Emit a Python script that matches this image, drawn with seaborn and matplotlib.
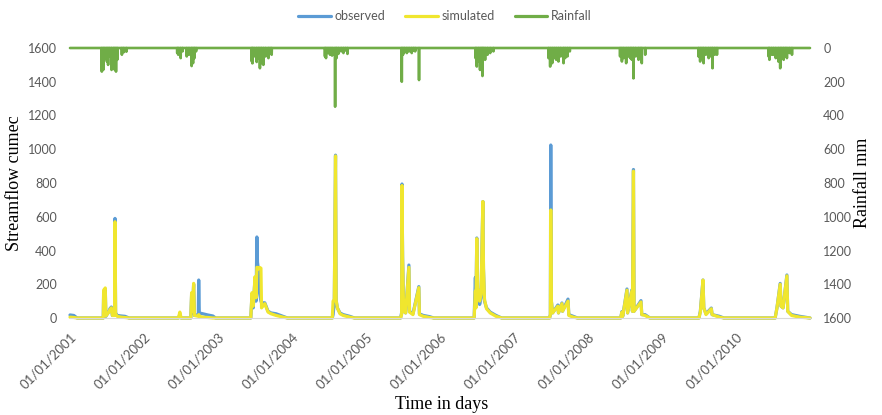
import matplotlib
matplotlib.use("Agg")
import matplotlib.pyplot as plt
import pandas as pd
import seaborn as sns
from matplotlib.lines import Line2D

# ---- streamflow (cumec): observed vs simulated ----
flow_dates = [
    "2001-01-01", "2001-01-20", "2001-02-05", "2001-06-14", "2001-06-16", "2001-06-24",
    "2001-06-27", "2001-07-12", "2001-07-17", "2001-07-24", "2001-07-29", "2001-08-09",
    "2001-08-11", "2001-08-14", "2001-08-22", "2001-09-10", "2001-09-29", "2001-10-20",
    "2002-06-20", "2002-06-27", "2002-07-03", "2002-08-20", "2002-08-24", "2002-08-28",
    "2002-09-03", "2002-09-07", "2002-09-26", "2002-09-28", "2002-10-01", "2002-10-18",
    "2002-11-12", "2002-12-07", "2002-12-20",
    "2003-06-12", "2003-06-18", "2003-06-24", "2003-07-03", "2003-07-08", "2003-07-12",
    "2003-07-15", "2003-07-18", "2003-07-25", "2003-08-01", "2003-08-04", "2003-08-20",
    "2003-09-05", "2003-09-20", "2003-10-15", "2003-11-18", "2003-12-10",
    "2004-07-18", "2004-07-22", "2004-07-28", "2004-08-03", "2004-08-06", "2004-08-12",
    "2004-08-25", "2004-09-10", "2004-10-12", "2004-11-05",
    "2005-06-20", "2005-06-25", "2005-06-27", "2005-06-30", "2005-07-05", "2005-07-15",
    "2005-07-31", "2005-08-03", "2005-08-20", "2005-09-18", "2005-09-21", "2005-10-10",
    "2005-11-10", "2005-12-01",
    "2006-06-18", "2006-06-24", "2006-06-27", "2006-07-01", "2006-07-05", "2006-07-10",
    "2006-07-15", "2006-07-22", "2006-07-31", "2006-08-03", "2006-08-08", "2006-08-18",
    "2006-09-05", "2006-10-04", "2006-11-01",
    "2007-06-25", "2007-06-29", "2007-07-01", "2007-07-04", "2007-07-10", "2007-08-05",
    "2007-08-08", "2007-08-25", "2007-08-28", "2007-09-24", "2007-09-28", "2007-10-20",
    "2007-11-10",
    "2008-06-10", "2008-06-16", "2008-06-20", "2008-07-11", "2008-07-14", "2008-08-04",
    "2008-08-07", "2008-08-12", "2008-08-15", "2008-09-18", "2008-09-22", "2008-10-08",
    "2008-11-01",
    "2009-07-01", "2009-07-08", "2009-07-21", "2009-07-25", "2009-08-05", "2009-08-31",
    "2009-09-04", "2009-10-10", "2009-11-01",
    "2010-07-12", "2010-07-21", "2010-08-06", "2010-08-10", "2010-08-20", "2010-09-08",
    "2010-09-12", "2010-10-01", "2010-11-10", "2010-12-31",
]
observed = [
    18, 15, 0, 0, 150, 170, 10, 40, 55, 65, 15, 20, 590, 30, 15, 12, 10, 0,
    0, 20, 0, 0, 140, 30, 200, 15, 20, 225, 30, 25, 18, 12, 0,
    0, 140, 60, 240, 100, 480, 330, 300, 150, 100, 90, 90, 40, 30, 25, 10, 0,
    0, 20, 90, 965, 105, 60, 30, 20, 10, 0,
    0, 30, 794, 360, 40, 30, 314, 40, 25, 186, 25, 15, 8, 0,
    0, 240, 100, 474, 150, 165, 80, 120, 690, 290, 100, 60, 35, 15, 0,
    0, 20, 1025, 100, 30, 77, 30, 89, 40, 112, 20, 10, 0,
    0, 38, 10, 172, 30, 166, 40, 880, 40, 103, 20, 20, 0,
    0, 40, 225, 60, 25, 59, 20, 10, 0,
    0, 60, 205, 70, 60, 255, 40, 20, 10, 0,
]
simulated = [
    5, 3, 0, 0, 165, 178, 12, 35, 50, 60, 15, 15, 570, 25, 10, 5, 3, 0,
    0, 35, 0, 0, 150, 40, 205, 15, 10, 20, 10, 5, 3, 0, 0,
    0, 150, 70, 245, 120, 300, 300, 290, 300, 295, 60, 85, 35, 25, 15, 5, 0,
    0, 100, 105, 960, 105, 60, 25, 15, 5, 0,
    0, 20, 785, 350, 40, 30, 300, 35, 20, 180, 20, 10, 3, 0,
    0, 160, 60, 470, 160, 165, 100, 140, 690, 300, 110, 55, 30, 10, 0,
    0, 20, 640, 100, 30, 70, 30, 85, 40, 100, 15, 5, 0,
    0, 35, 10, 165, 30, 160, 40, 870, 40, 95, 20, 15, 0,
    0, 35, 225, 60, 20, 55, 20, 5, 0,
    0, 60, 200, 70, 60, 250, 40, 15, 5, 0,
]

# ---- daily rainfall (mm), rain days only ----
rain_dates = [
    "2001-06-07", "2001-06-14", "2001-06-22", "2001-07-02", "2001-07-08", "2001-07-16",
    "2001-07-25", "2001-08-03", "2001-08-10", "2001-08-16", "2001-08-22", "2001-09-14",
    "2001-09-23", "2001-10-06",
    "2002-06-14", "2002-06-19", "2002-07-01", "2002-07-10", "2002-07-31", "2002-08-11",
    "2002-08-24", "2002-08-31", "2002-09-07", "2002-09-15",
    "2003-06-17", "2003-06-20", "2003-06-28", "2003-07-11", "2003-07-19", "2003-07-27",
    "2003-08-04", "2003-08-13", "2003-08-24", "2003-09-07", "2003-09-15", "2003-09-23",
    "2004-06-12", "2004-06-17", "2004-06-27", "2004-07-07", "2004-07-17", "2004-08-01",
    "2004-08-08", "2004-08-17", "2004-08-31", "2004-09-11", "2004-09-22", "2004-10-01",
    "2005-06-26", "2005-07-02", "2005-07-10", "2005-07-21", "2005-08-01", "2005-08-14",
    "2005-08-23", "2005-08-31", "2005-09-19",
    "2006-06-25", "2006-07-01", "2006-07-09", "2006-07-17", "2006-07-23", "2006-07-29",
    "2006-08-04", "2006-08-11", "2006-08-23", "2006-09-05", "2006-09-21",
    "2007-06-20", "2007-06-28", "2007-07-08", "2007-07-18", "2007-07-28", "2007-08-08",
    "2007-08-19", "2007-09-02", "2007-09-10", "2007-09-21", "2007-10-03",
    "2008-06-07", "2008-06-16", "2008-06-25", "2008-07-07", "2008-07-17", "2008-07-27",
    "2008-08-04", "2008-08-12", "2008-08-23", "2008-09-06", "2008-09-14", "2008-09-22",
    "2008-10-09",
    "2009-06-29", "2009-07-07", "2009-07-16", "2009-07-24", "2009-08-04", "2009-08-18",
    "2009-08-29", "2009-09-06", "2009-09-17", "2009-09-28",
    "2010-06-10", "2010-06-14", "2010-06-25", "2010-07-04", "2010-07-15", "2010-07-28",
    "2010-08-06", "2010-08-14", "2010-08-23", "2010-08-31", "2010-09-08", "2010-09-20",
    "2010-10-03",
]
rainfall = [
    140, 130, 60, 80, 100, 50, 130, 120, 130, 140, 70, 40, 25, 22,
    30, 40, 60, 20, 50, 40, 107, 90, 60, 20,
    80, 91, 50, 83, 60, 120, 90, 100, 50, 60, 30, 40,
    50, 60, 30, 40, 45, 348, 60, 35, 20, 30, 15, 35,
    200, 40, 25, 30, 20, 30, 15, 20, 190,
    60, 110, 80, 130, 100, 166, 60, 70, 40, 30, 20,
    60, 110, 90, 60, 70, 80, 50, 90, 60, 50, 20,
    50, 80, 60, 90, 50, 60, 70, 180, 50, 70, 50, 90, 40,
    50, 80, 60, 90, 40, 60, 50, 120, 40, 40,
    50, 70, 40, 40, 60, 80, 120, 60, 70, 50, 60, 30, 40,
]

tick_labels = [
    "01/01/2001", "01/01/2002", "01/01/2003", "01/01/2004", "01/01/2005",
    "01/01/2006", "01/01/2007", "01/01/2008", "01/01/2009", "01/01/2010",
]

BLUE = "#5B9BD5"
YELLOW = "#F0E62E"
GREEN = "#70AD47"
GREY = "#595959"

sns.set_style("white")
plt.rcParams["font.family"] = ["Lato", "DejaVu Sans"]

flow = pd.DataFrame({
    "date": pd.to_datetime(flow_dates),
    "observed": observed,
    "simulated": simulated,
})
days = pd.date_range("2001-01-01", "2010-12-31", freq="D")
rain = (pd.Series(rainfall, index=pd.to_datetime(rain_dates))
        .reindex(days, fill_value=0)
        .rename_axis("date")
        .reset_index(name="rain"))

fig = plt.figure(figsize=(8.82, 4.15), dpi=100)
ax = fig.add_axes([70 / 882, 1 - 318 / 415, 740 / 882, 270 / 415])

sns.lineplot(data=flow, x="date", y="observed", ax=ax, color=BLUE, lw=2.3)
sns.lineplot(data=flow, x="date", y="simulated", ax=ax, color=YELLOW, lw=2.3)

ax2 = ax.twinx()
sns.lineplot(data=rain, x="date", y="rain", ax=ax2, color=GREEN, lw=1.9)

for line in ax.lines + ax2.lines:
    line.set_clip_on(False)

ax.set_xlim(pd.Timestamp("2001-01-01"), pd.Timestamp("2010-12-31"))
ax.set_ylim(0, 1600)
ax2.set_ylim(1600, 0)
ax.set_yticks(range(0, 1601, 200))
ax2.set_yticks(range(0, 1601, 200))

ax.set_xticks(pd.to_datetime(tick_labels, format="%d/%m/%Y"))
ax.set_xticklabels(tick_labels, rotation=45, ha="right", va="top",
                   rotation_mode="anchor")

for a in (ax, ax2):
    for side in ("top", "left", "right", "bottom"):
        a.spines[side].set_visible(False)
ax.spines["bottom"].set_visible(True)
ax.spines["bottom"].set_color("#D9D9D9")

ax.tick_params(axis="x", length=4, width=0.8, color="#D9D9D9", pad=5,
               labelsize=9.5, labelcolor=GREY)
ax.tick_params(axis="y", length=0, pad=9.5, labelsize=9, labelcolor=GREY)
ax2.tick_params(axis="y", length=0, pad=9.5, labelsize=9, labelcolor=GREY)

serif = ["Liberation Serif", "DejaVu Serif"]
ax.set_xlabel("")
ax.set_ylabel("Streamflow cumec", family=serif, fontsize=13, color="black")
ax.yaxis.set_label_coords(-0.063, 0.5)
ax2.set_ylabel("Rainfall mm", family=serif, fontsize=13, color="black")
ax2.yaxis.set_label_coords(1.059, 0.5)
fig.text(442 / 882, 1 - 404 / 415, "Time in days", family=serif, fontsize=13,
         ha="center", va="center", color="black")

handles = [Line2D([], [], color=BLUE, lw=2.3),
           Line2D([], [], color=YELLOW, lw=2.3),
           Line2D([], [], color=GREEN, lw=2.3)]
fig.legend(handles, ["observed", "simulated", "Rainfall"], loc="center",
           bbox_to_anchor=(445 / 882, 1 - 16 / 415), ncol=3, frameon=False,
           fontsize=9, labelcolor=GREY, handlelength=2.6, handletextpad=0.3,
           columnspacing=1.6)

fig.savefig("out.png", dpi=100)
